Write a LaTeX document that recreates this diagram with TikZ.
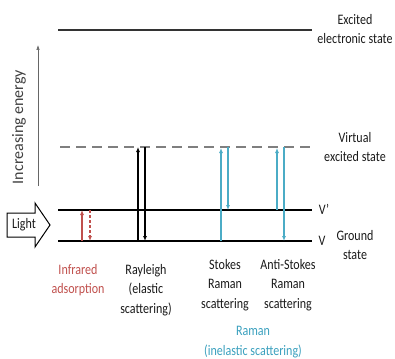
\documentclass[tikz,border=0pt]{standalone}
\usepackage{fontspec}
\setmainfont[FakeStretch=0.83]{Carlito}
\newfontfamily\rotfont{Carlito}
\usetikzlibrary{arrows.meta}
\definecolor{irred}{HTML}{C0504D}
\definecolor{ramanblue}{HTML}{4BACC6}
\definecolor{ramantext}{HTML}{3AA0BE}
\definecolor{txt}{HTML}{1A1A1A}
\definecolor{dashgray}{HTML}{7F7F7F}
\begin{document}
\begin{tikzpicture}[x=1pt,y=-1pt,
  lbl/.style={font=\fontsize{14.5}{19.5}\selectfont, text=txt, align=center, inner sep=0pt},
  level/.style={line width=1.5pt, black},
  toplevel/.style={line width=2.5pt, draw=black!80},
  virt/.style={line width=1.1pt, dashgray, dash pattern=on 10pt off 6pt},
  tr/.style={line width=1.4pt, -{Latex[length=5pt,width=4pt]}}]
\useasboundingbox (0,0) rectangle (395,358);
% levels
\coordinate (tl) at (58,30); \coordinate (tr) at (312,30);
\coordinate (vl) at (60,147); \coordinate (vr) at (312,147);
\coordinate (pl) at (58,210); \coordinate (pr) at (312,210);
\coordinate (gl) at (58,241); \coordinate (gr) at (312,241);
\draw[toplevel] (tl) -- (tr);
\draw[virt] (vl) -- (vr);
\draw[level] (pl) -- (pr);
\draw[level] (gl) -- (gr);
% energy axis
\coordinate (e0) at (38,186); \coordinate (e1) at (38,45);
\draw[line width=0.6pt, black!60, -{Latex[length=5pt,width=3.5pt]}] (e0) -- (e1);
\node[rotate=90, font=\rotfont\fontsize{16}{18}\selectfont, text=black!75, inner sep=0pt] (en) at (19,127) {Increasing energy};
% light arrow
\draw[line width=1pt, black] (7,213) -- (35,213) -- (35,203) -- (50,225) -- (35,247) -- (35,237) -- (7,237) -- cycle;
\node[lbl] (light) at (24,225) {Light};
% infrared
\coordinate (ir1) at (82,241); \coordinate (ir2) at (82,210);
\coordinate (ir3) at (90,210); \coordinate (ir4) at (90,241);
\draw[tr, irred] (ir1) -- (ir2);
\draw[tr, irred, dash pattern=on 3pt off 2pt] (ir3) -- (ir4);
% rayleigh
\coordinate (ry1) at (138,241); \coordinate (ry2) at (138,147);
\coordinate (ry3) at (145,147); \coordinate (ry4) at (145,241);
\draw[tr] (ry1) -- (ry2);
\draw[tr] (ry3) -- (ry4);
% stokes
\coordinate (st1) at (221,241); \coordinate (st2) at (221,148);
\coordinate (st3) at (228,147); \coordinate (st4) at (228,210);
\draw[tr, ramanblue] (st1) -- (st2);
\draw[tr, ramanblue] (st3) -- (st4);
% anti-stokes
\coordinate (as1) at (277,210); \coordinate (as2) at (277,148);
\coordinate (as3) at (284,147); \coordinate (as4) at (284,241);
\draw[tr, ramanblue] (as1) -- (as2);
\draw[tr, ramanblue] (as3) -- (as4);
% labels
\node[lbl] (exc) at (355,29) {Excited\\electronic state};
\node[lbl] (vir) at (355,147) {Virtual\\excited state};
\node[lbl] (vp) at (324,209) {V’};
\node[lbl] (v) at (322,241) {V};
\node[lbl] (gs) at (355,245) {Ground\\state};
\node[lbl, text=irred] (irl) at (78,280) {Infrared\\adsorption};
\node[lbl] (ryl) at (146,290) {Rayleigh\\(elastic\\scattering)};
\node[lbl] (stl) at (225,285) {Stokes\\Raman\\scattering};
\node[lbl] (asl) at (288,285) {Anti-Stokes\\Raman\\scattering};
\node[lbl, text=ramantext] (ral) at (253,342) {Raman\\(inelastic scattering)};
\end{tikzpicture}
\end{document}
